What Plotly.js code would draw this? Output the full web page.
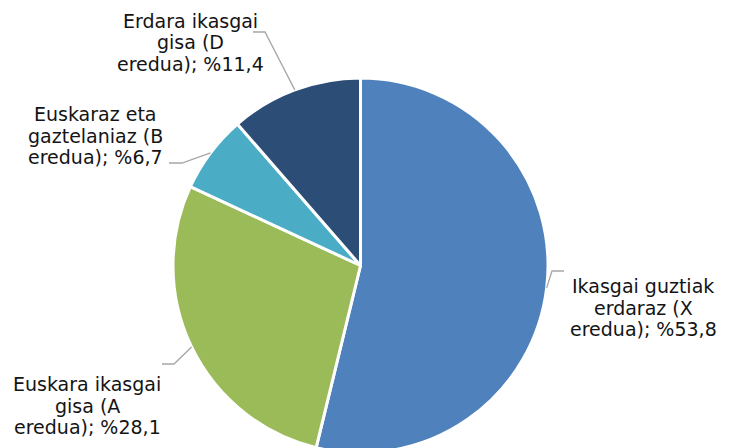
<!DOCTYPE html>
<html>
<head>
<meta charset="utf-8">
<script src="https://cdn.plot.ly/plotly-3.0.1.min.js"></script>
<style>
html,body{margin:0;padding:0;overflow:hidden;background:#fff;}
#chart{width:737px;height:460px;}
</style>
</head>
<body>
<div id="chart"></div>
<script>
// Data
var categories = [
  "Ikasgai guztiak<br>erdaraz (X<br>eredua)",
  "Euskara ikasgai<br>gisa (A<br>eredua)",
  "Euskaraz eta<br>gaztelaniaz (B<br>eredua)",
  "Erdara ikasgai<br>gisa (D<br>eredua)"
];
var values = [53.8, 28.1, 6.7, 11.4];
var valueLabels = ["53,8", "28,1", "6,7", "11,4"];
var colors = ["#4F81BD", "#9BBB59", "#4BACC6", "#2C4D75"];

// Layout geometry (pixels)
var W = 737, H = 460;
var pieLeft = 173, pieRight = 548, pieTop = 78, pieBottom = 453;
var lineGap = 21.5;
// label placement (centre of first text line) and leader elbow/end, in pixels
var labelPos = [
  {tx: 643, ty: 286, elbow: [552, 271], end: [564, 271]},
  {tx: 87,  ty: 384, elbow: [174, 364], end: [162, 364]},
  {tx: 96,  ty: 114, elbow: [182, 163], end: [169, 163]},
  {tx: 190, ty: 21,  elbow: [265, 32],  end: [253, 32]}
];

function px2x(p){ return p / W; }
function py2y(p){ return (H - p) / H; }

var cx = (pieLeft + pieRight) / 2, cy = (pieTop + pieBottom) / 2;
var R = (pieRight - pieLeft) / 2;
var total = values.reduce(function(a,b){return a+b;}, 0);

var annotations = [], shapes = [];
var cum = 0;
for (var i = 0; i < values.length; i++) {
  var mid = (cum + values[i] / 2) / total * 2 * Math.PI;
  cum += values[i];
  var ex = cx + R * Math.sin(mid);
  var ey = cy - R * Math.cos(mid);
  var L = labelPos[i];
  shapes.push({
    type: 'path', xref: 'paper', yref: 'paper',
    path: 'M ' + px2x(ex) + ' ' + py2y(ey) +
          ' L ' + px2x(L.elbow[0]) + ' ' + py2y(L.elbow[1]) +
          ' L ' + px2x(L.end[0]) + ' ' + py2y(L.end[1]),
    line: {color: '#A6A6A6', width: 1.3}
  });
  var lines = (categories[i] + '; %' + valueLabels[i]).split('<br>');
  for (var k = 0; k < lines.length; k++) {
    annotations.push({
      xref: 'paper', yref: 'paper',
      x: px2x(L.tx), y: py2y(L.ty + k * lineGap),
      xanchor: 'center', yanchor: 'middle',
      text: lines[k],
      showarrow: false, align: 'center',
      font: {family: 'DejaVu Sans, Verdana, sans-serif', size: 19, color: '#141414'}
    });
  }
}

var trace = {
  type: 'pie',
  values: values,
  labels: categories,
  sort: false,
  direction: 'clockwise',
  rotation: 0,
  textinfo: 'none',
  hoverinfo: 'none',
  marker: {colors: colors, line: {color: '#ffffff', width: 3}},
  domain: {x: [pieLeft / W, pieRight / W], y: [(H - pieBottom) / H, (H - pieTop) / H]}
};

var layout = {
  width: W, height: H,
  margin: {l: 0, r: 0, t: 0, b: 0},
  showlegend: false,
  paper_bgcolor: '#ffffff',
  annotations: annotations,
  shapes: shapes
};

Plotly.newPlot('chart', [trace], layout, {displayModeBar: false, staticPlot: true});
</script>
</body>
</html>
